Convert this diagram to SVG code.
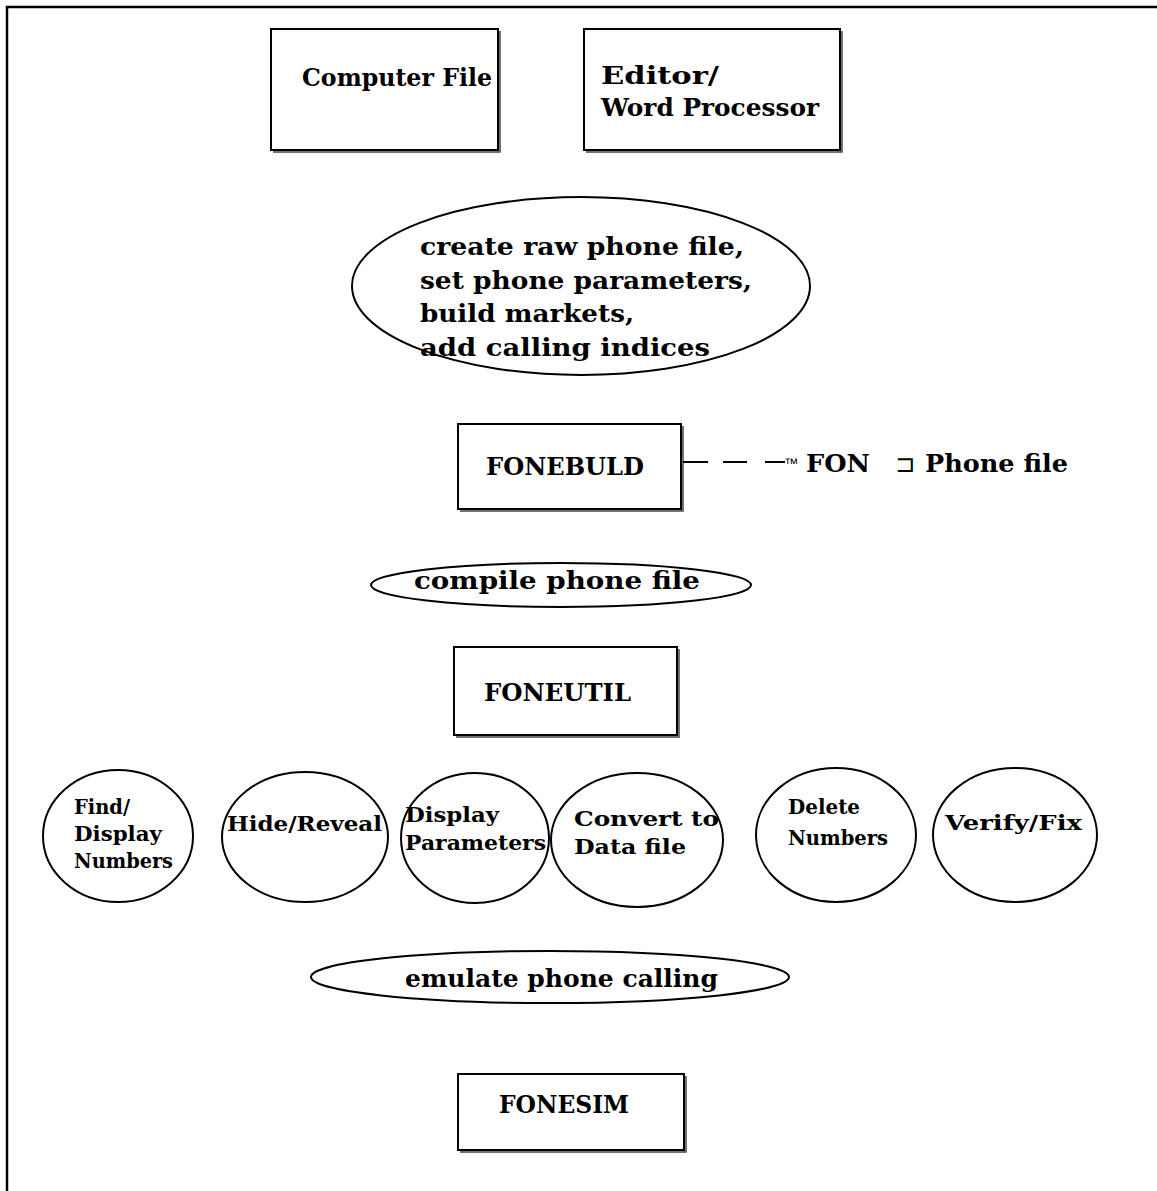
<svg xmlns="http://www.w3.org/2000/svg" width="1157" height="1191" viewBox="0 0 1157 1191">
<style>
.box{fill:#fff;stroke:#000;stroke-width:2}
.sh{fill:none;stroke:#444;stroke-width:1.5}
.ell{fill:#fff;stroke:#000;stroke-width:2}
text{font-family:"DejaVu Serif","Liberation Serif",serif;font-weight:bold;fill:#000}
.t{font-size:24px}
.s{font-size:21px}
</style>
<rect x="0" y="0" width="1157" height="1191" fill="#fff"/>
<path d="M7,1191 V7 H1157" fill="none" stroke="#000" stroke-width="2.5"/>
<g id="computer-file"><rect class="box" x="271" y="29" width="227" height="121"/><path class="sh" d="M273,152 H500 V31"/><text class="t" x="302" y="86" textLength="190" lengthAdjust="spacingAndGlyphs">Computer File</text></g>
<g id="editor"><rect class="box" x="584" y="29" width="256" height="121"/><path class="sh" d="M586,152 H842 V31"/><text class="t" x="601" y="84" textLength="118" lengthAdjust="spacingAndGlyphs">Editor/</text><text class="t" x="601" y="116" textLength="218" lengthAdjust="spacingAndGlyphs">Word Processor</text></g>
<g id="create"><ellipse class="ell" cx="581" cy="286" rx="229" ry="89"/><text class="t" x="420" y="255" textLength="324" lengthAdjust="spacingAndGlyphs">create raw phone file,</text><text class="t" x="420" y="289" textLength="332" lengthAdjust="spacingAndGlyphs">set phone parameters,</text><text class="t" x="420" y="322" textLength="214" lengthAdjust="spacingAndGlyphs">build markets,</text><text class="t" x="420" y="356" textLength="290" lengthAdjust="spacingAndGlyphs">add calling indices</text></g>
<g id="fonebuld"><rect class="box" x="458" y="424" width="223" height="85"/><path class="sh" d="M460,511 H683 V426"/><text class="t" x="486" y="475" textLength="158" lengthAdjust="spacingAndGlyphs">FONEBULD</text></g>
<g id="connectors"><path d="M683,462 H708 M723,462 H747 M765,462 H785" fill="none" stroke="#000" stroke-width="2"/></g>
<g id="phone-file"><text x="784" y="468" style="font-family:'Liberation Sans',sans-serif;font-weight:normal;font-size:14px">™</text><text class="t" x="806" y="472" textLength="64" lengthAdjust="spacingAndGlyphs">FON</text><text x="895" y="472" style="font-family:'DejaVu Sans',sans-serif;font-weight:normal;font-size:24px">⊐</text><text class="t" x="925" y="472" textLength="143" lengthAdjust="spacingAndGlyphs">Phone file</text></g>
<g id="compile"><ellipse class="ell" cx="561" cy="585" rx="190" ry="22"/><text class="t" x="414" y="589" textLength="286" lengthAdjust="spacingAndGlyphs">compile phone file</text></g>
<g id="foneutil"><rect class="box" x="454" y="647" width="223" height="88"/><path class="sh" d="M456,737 H679 V649"/><text class="t" x="484" y="701" textLength="147" lengthAdjust="spacingAndGlyphs">FONEUTIL</text></g>
<g id="find"><ellipse class="ell" cx="118" cy="836" rx="75" ry="66"/><text class="s" x="74" y="814" textLength="56" lengthAdjust="spacingAndGlyphs">Find/</text><text class="s" x="74" y="841" textLength="88" lengthAdjust="spacingAndGlyphs">Display</text><text class="s" x="74" y="868" textLength="99" lengthAdjust="spacingAndGlyphs">Numbers</text></g>
<g id="hide"><ellipse class="ell" cx="305" cy="837" rx="83" ry="65"/><text class="s" x="227" y="831" textLength="155" lengthAdjust="spacingAndGlyphs">Hide/Reveal</text></g>
<g id="display-params"><ellipse class="ell" cx="475" cy="838" rx="74" ry="65"/><text class="s" x="405" y="822" textLength="94" lengthAdjust="spacingAndGlyphs">Display</text><text class="s" x="405" y="850" textLength="141" lengthAdjust="spacingAndGlyphs">Parameters</text></g>
<g id="convert"><ellipse class="ell" cx="637" cy="840" rx="86" ry="67"/><text class="s" x="574" y="826" textLength="145" lengthAdjust="spacingAndGlyphs">Convert to</text><text class="s" x="574" y="854" textLength="112" lengthAdjust="spacingAndGlyphs">Data file</text></g>
<g id="delete"><ellipse class="ell" cx="836" cy="835" rx="80" ry="67"/><text class="s" x="788" y="814" textLength="72" lengthAdjust="spacingAndGlyphs">Delete</text><text class="s" x="788" y="845" textLength="100" lengthAdjust="spacingAndGlyphs">Numbers</text></g>
<g id="verify"><ellipse class="ell" cx="1015" cy="835" rx="82" ry="67"/><text class="s" x="945" y="830" textLength="137" lengthAdjust="spacingAndGlyphs">Verify/Fix</text></g>
<g id="emulate"><ellipse class="ell" cx="550" cy="977" rx="239" ry="26"/><text class="t" x="405" y="987" textLength="313" lengthAdjust="spacingAndGlyphs">emulate phone calling</text></g>
<g id="fonesim"><rect class="box" x="458" y="1074" width="226" height="76"/><path class="sh" d="M460,1152 H686 V1076"/><text class="t" x="499" y="1113" textLength="130" lengthAdjust="spacingAndGlyphs">FONESIM</text></g>
</svg>
